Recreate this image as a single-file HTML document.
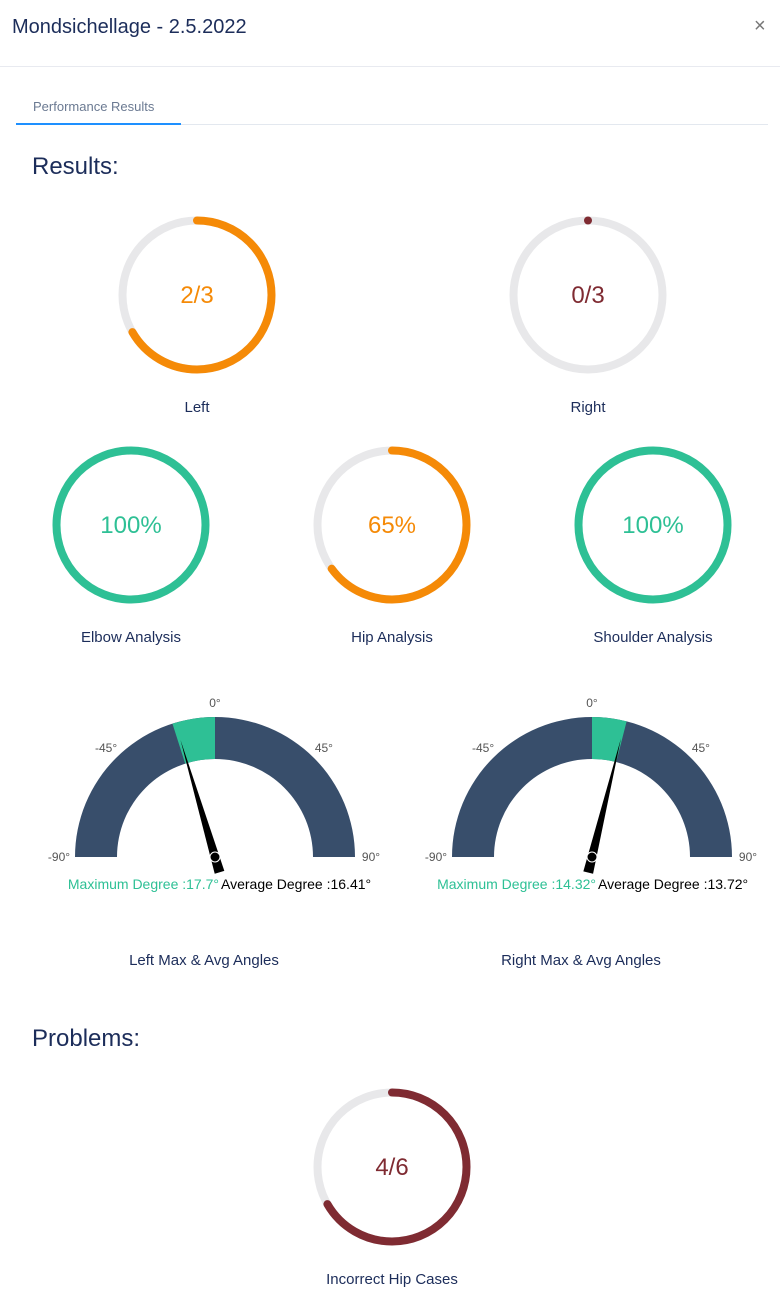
<!DOCTYPE html>
<html><head><meta charset="utf-8"><style>
body{margin:0;width:780px;height:1300px;background:#fff;font-family:"Liberation Sans",sans-serif;position:relative;overflow:hidden}
.a{position:absolute}
</style></head><body>
<div class="a" style="left:12px;top:16px;font-size:20px;color:#1c2d5a">Mondsichellage - 2.5.2022</div>
<div class="a" style="left:754px;top:15px;font-size:20px;color:#777">×</div>
<div class="a" style="left:0;top:66px;width:780px;height:1px;background:#e8eaf0"></div>
<div class="a" style="left:33px;top:99px;font-size:13px;color:#6b7a92">Performance Results</div>
<div class="a" style="left:16px;top:124px;width:752px;height:1px;background:#e3e8ef"></div>
<div class="a" style="left:16px;top:123px;width:165px;height:2px;background:#1e90ff"></div>
<div class="a" style="left:32px;top:153px;font-size:24px;color:#1c2d5a">Results:</div>
<div class="a" style="left:32px;top:1025px;font-size:24px;color:#1c2d5a">Problems:</div>
<svg id="s" class="a" style="left:0;top:0" width="780" height="1300"></svg>
<script>
const ringLabels=["Left","Right","Elbow Analysis","Hip Analysis","Shoulder Analysis","Incorrect Hip Cases"];
const ringTexts=["2/3","0/3","100%","65%","100%","4/6"];
const ringFractions=[2/3,0,1,0.65,1,4/6];
const ringColors=["#f58a07","#7f2b32","#2ec095","#f58a07","#2ec095","#7f2b32"];
const ringCx=[197,588,131,392,653,392];
const ringCy=[295,295,525,525,525,1167];
const gaugeLabels=["Left Max & Avg Angles","Right Max & Avg Angles"];
const gaugeMax=[-17.7,14.32];
const gaugeAvg=[-16.41,13.72];
const gaugeMaxText=["Maximum Degree :17.7°","Maximum Degree :14.32°"];
const gaugeAvgText=["Average Degree :16.41°","Average Degree :13.72°"];
const gaugeCx=[215,592];
const gaugeTicks=[-90,-45,0,45,90];
const tickText=["-90°","-45°","0°","45°","90°"];
const NS="http://www.w3.org/2000/svg",s=document.getElementById('s');
function mk(t,a,p){const e=document.createElementNS(NS,t);for(const k in a)e.setAttribute(k,a[k]);(p||s).appendChild(e);return e;}
const R=74.5;
ringFractions.forEach((f,i)=>{
 const cx=ringCx[i],cy=ringCy[i],C=2*Math.PI*R;
 const g=mk('g',{});
 
 
 mk('circle',{cx,cy,r:R,fill:'none',stroke:'#e8e8ea','stroke-width':8},g);
 const arc=mk('circle',{cx,cy,r:R,fill:'none',stroke:ringColors[i],'stroke-width':8,'stroke-linecap':'round','stroke-dasharray':(f*C)+' '+C,transform:`rotate(-90 ${cx} ${cy})`},g);
 
 
 const t=mk('text',{x:cx,y:cy+8,'text-anchor':'middle','font-size':24,fill:ringColors[i]},g);t.textContent=ringTexts[i];
 const l=mk('text',{x:cx,y:cy+117,'text-anchor':'middle','font-size':15,fill:'#1c2d5a'},g);l.textContent=ringLabels[i];
 
 
});
const CY=857,RO=140,RI=98;
function pt(deg,r,cx){const a=deg*Math.PI/180;return [cx+r*Math.sin(a),CY-r*Math.cos(a)];}
function band(cx,a0,a1,col,g){const p0=pt(a0,RO,cx),p1=pt(a1,RO,cx),q1=pt(a1,RI,cx),q0=pt(a0,RI,cx);const lg=Math.abs(a1-a0)>180?1:0;
 return mk('path',{d:`M${p0} A${RO} ${RO} 0 ${lg} 1 ${p1} L${q1} A${RI} ${RI} 0 ${lg} 0 ${q0}Z`,fill:col},g);}
gaugeMax.forEach((m,i)=>{
 const cx=gaugeCx[i];const g=mk('g',{});
 
 
 band(cx,-90,90,'#384e6b',g);
 const lo=Math.min(0,m),hi=Math.max(0,m);
 band(cx,lo,hi,'#2ec095',g);
 gaugeTicks.forEach((d,k)=>{const p=pt(d,RO+14,cx);let x=p[0],y=p[1]+4;
  if(d===-90){x=cx-RO-16;y=CY+4;} if(d===90){x=cx+RO+16;y=CY+4;}
  const t=mk('text',{x,y,'text-anchor':'middle','font-size':12,fill:'#555'},g);t.textContent=tickText[k];});
 const a=gaugeAvg[i]*Math.PI/180,ux=Math.sin(a),uy=-Math.cos(a);
 const tip=[cx+ux*122,CY+uy*122],b=[cx-ux*16,CY-uy*16];
 const n=mk('polygon',{points:`${tip} ${b[0]+uy*5},${b[1]-ux*5} ${b[0]-uy*5},${b[1]+ux*5}`,fill:'#000'},g);
 
 
 mk('circle',{cx,cy:CY,r:5,fill:'#000',stroke:'#fff','stroke-width':1},g);
 const mt=mk('text',{x:cx+4,y:889,'text-anchor':'end','font-size':14,fill:'#2ec095'},g);mt.textContent=gaugeMaxText[i];
 const at=mk('text',{x:cx+6,y:889,'text-anchor':'start','font-size':14,fill:'#000'},g);at.textContent=gaugeAvgText[i];
 const l=mk('text',{x:cx-11,y:965,'text-anchor':'middle','font-size':15,fill:'#1c2d5a'},g);l.textContent=gaugeLabels[i];
});
</script>
</body></html>
